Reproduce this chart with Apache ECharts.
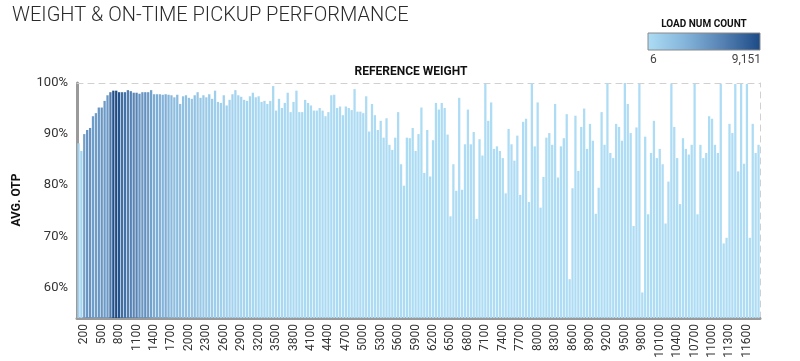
<!DOCTYPE html>
<html>
<head>
<meta charset="utf-8">
<script src="https://cdn.jsdelivr.net/npm/echarts@6/dist/echarts.min.js"></script>
<style>
html,body{margin:0;padding:0;background:#fff;}
#chart{width:800px;height:361px;}
</style>
</head>
<body>
<div id="chart"></div>
<script>
// Reference weight categories (100 .. 11800, step 50)
const weights = [];
for (let w = 100; w <= 11800; w += 50) weights.push(String(w));

// Average on-time pickup (%)
const otp = [
  88.2, 86.7, 90.0, 90.8, 91.2, 93.5, 94.1, 95.2, 95.2, 96.5,
  97.6, 98.2, 98.5, 98.5, 98.2, 98.2, 98.2, 98.6, 98.4, 98.1,
  98.1, 97.9, 98.2, 98.2, 98.2, 98.6, 97.8, 97.8, 97.8, 97.7,
  97.8, 97.7, 97.6, 97.2, 97.7, 95.9, 97.4, 97.6, 97.1, 96.9,
  97.6, 98.2, 97.1, 97.6, 97.2, 97.8,
  96.9, 98.5, 96.3, 96.1, 97.6, 95.6, 96.7, 97.8, 98.6, 97.6,
  97.3, 96.7, 96.5, 97.4, 98.1, 97.2, 97.4, 96.3, 96.5, 95.9,
  96.5, 99.4, 94.6, 96.9, 95.1, 96.1, 98.1, 94.3, 96.3, 98.5,
  94.3, 94.3, 96.7, 96.1, 95.6, 94.6, 94.6, 95.1, 94.6, 93.5,
  94.3, 97.6, 97.7, 95.1, 95.4, 93.7, 95.4, 95.1, 94.7,
  98.8, 94.4, 94.4, 94.1, 97.4, 90.5, 95.9, 93.7, 90.8, 92.6,
  89.3, 93.1, 87.9, 86.9, 89.3, 94.3, 84.1, 79.9, 89.3, 89.2,
  91.2, 86.7, 90.0, 95.2, 82.4, 90.8, 81.7, 88.8, 96.1, 94.8,
  96.1, 95.1, 89.9, 73.9, 84.1, 78.9, 97.1, 79.1, 88.0, 94.8,
  88.0, 90.4, 73.4, 89.0, 85.8, 99.8, 92.6,
  96.2, 87.1, 87.6, 86.7, 85.3, 78.4, 91.0, 88.0, 84.8, 89.7,
  78.1, 92.4, 93.0, 76.7, 100, 87.6, 96.2, 75.6, 81.6, 89.3,
  90.2, 87.9, 95.9, 81.5, 87.6, 89.2, 93.9, 61.6, 79.4, 93.6,
  82.8, 91.4, 95.0, 87.1, 92.0, 88.7, 74.4, 79.5, 94.3, 87.9,
  100, 86.3, 85.3, 92.0, 91.4, 88.7, 100, 95.9,
  90.2, 72.0, 91.3, 99.8, 59.0, 89.5, 74.3, 86.3, 92.6, 85.3,
  87.1, 84.1, 72.5, 80.7, 99.8, 91.4, 85.3, 76.3, 89.2, 87.1,
  86.0, 87.9, 99.8, 74.3, 87.9, 85.3, 86.3, 93.5, 93.0, 87.9,
  86.3, 99.8, 68.6, 69.7, 92.0, 90.2, 99.8, 82.7, 99.8, 84.2,
  99.8, 69.7, 92.0, 86.3, 87.9
];

// Load count per weight bucket (drives the colour)
const loadCount = [
  900, 600, 4300, 5000, 5000, 4400, 4400, 4900, 4900, 4600,
  4700, 6500, 8800, 9151, 8700, 7200, 7000, 6300, 6100, 5900,
  6000, 5000, 4800, 5200, 4600, 4200, 3600, 3500, 3300, 3100,
  3400, 2900, 2700, 2400, 2500, 2200, 2100, 2000, 1900, 1800,
  2000, 1600, 1500, 1400, 1300, 1400, 1200, 1100, 1000, 950,
  900, 850, 800, 750, 700, 650, 600, 560, 520, 480,
  450, 420, 400, 380, 360, 340, 330, 310, 300, 290,
  280, 270, 260, 250, 240, 230, 220, 210, 200, 195,
  190, 185, 180, 170, 165, 160, 155, 150, 145, 140,
  135, 130, 125, 120, 115, 110, 105, 100, 98, 95,
  92, 90, 88, 85, 82, 80, 78, 75, 72, 70,
  68, 66, 64, 62, 60, 58, 56, 55, 54, 52,
  50, 48, 47, 46, 45, 44, 42, 41, 40, 39,
  38, 37, 36, 35, 34, 33, 32, 31, 30, 30,
  29, 28, 28, 27, 26, 26, 25, 24, 24, 23,
  22, 22, 21, 21, 20, 20, 19, 19, 18, 18,
  17, 17, 16, 16, 16, 15, 15, 15, 14, 14,
  14, 13, 13, 13, 12, 12, 12, 12, 11, 11,
  11, 11, 10, 10, 10, 10, 10, 9, 9, 9,
  9, 9, 9, 8, 8, 8, 8, 8, 8, 8,
  8, 7, 7, 7, 7, 7, 7, 7, 7, 7,
  7, 7, 6, 6, 6, 6, 6, 6, 6, 6,
  6, 6, 6, 6, 6, 6, 6, 6, 6, 6,
  6, 6, 6, 6, 6
];

const yTicks = [60, 70, 80, 90, 100];
const countMin = 6, countMax = 9151;
const rampColors = ['#addcf4', '#84b4da', '#5581b3', '#1c4a86'];

const chart = echarts.init(document.getElementById('chart'));
const source = weights.map((w, i) => [w, otp[i], loadCount[i]]);
const FONT = 'Roboto';

chart.setOption({
  animation: false,
  backgroundColor: '#fff',
  textStyle: { fontFamily: FONT },
  title: [
    { text: 'WEIGHT & ON-TIME PICKUP PERFORMANCE', left: 7, top: 1,
      textStyle: { fontFamily: FONT, fontSize: 20, fontWeight: 300, color: '#2a2a2a' } },
    { text: 'REFERENCE WEIGHT', left: 406, top: 61, textAlign: 'center',
      textStyle: { fontFamily: FONT, fontSize: 12, fontWeight: 'bold', color: '#111' } }
  ],
  grid: { left: 77, right: 40, top: 83, bottom: 43, containLabel: false },
  dataset: { source: source },
  visualMap: {
    show: false, type: 'continuous', dimension: 2,
    min: countMin, max: countMax, seriesIndex: 0,
    inRange: { color: rampColors }
  },
  xAxis: [{
    type: 'category',
    data: weights,
    axisLine: { show: true, lineStyle: { color: '#9a9a9a', width: 3 } },
    axisTick: { show: false },
    axisLabel: {
      rotate: 90, fontSize: 12, color: '#333', margin: 6,
      interval: (idx, val) => (Number(val) - 200) % 300 === 0
    },
    splitLine: { show: false }
  }, {
    type: 'category', position: 'top', data: weights,
    axisLine: { show: true, lineStyle: { color: '#d0d0d0', width: 1, type: [6, 5] } },
    axisTick: { show: false }, axisLabel: { show: false }
  }],
  yAxis: [{
    type: 'value', min: 54, max: 100,
    axisLine: { show: true, lineStyle: { color: '#9a9a9a', width: 3 } },
    axisTick: { show: false },
    axisLabel: { customValues: yTicks, formatter: v => v + '%', fontSize: 13, color: '#333', margin: 9 },
    splitLine: { show: false }
  }, {
    type: 'value', min: 54, max: 100, position: 'right',
    axisLine: { show: true, lineStyle: { color: '#d0d0d0', width: 1, type: [6, 5] } },
    axisTick: { show: false }, axisLabel: { show: false }, splitLine: { show: false }
  }],
  series: [{
    type: 'bar',
    encode: { x: 0, y: 1 },
    barCategoryGap: '22%',
    itemStyle: { borderWidth: 0 }
  }],
  graphic: [
    { type: 'text', x: 17, y: 200, rotation: Math.PI / 2,
      style: { text: 'AVG. OTP', fontFamily: FONT, fontSize: 12, fontWeight: 'bold', fill: '#111', align: 'center', verticalAlign: 'middle' } },
    { type: 'text', x: 704, y: 24,
      style: { text: 'LOAD NUM COUNT', fontFamily: FONT, fontSize: 10, fontWeight: 'bold', fill: '#111', align: 'center', verticalAlign: 'middle' } },
    { type: 'rect', shape: { x: 648, y: 33, width: 112, height: 17 },
      style: { stroke: '#8a8a8a', lineWidth: 1,
        fill: new echarts.graphic.LinearGradient(0, 0, 1, 0, rampColors.map((c, i) => ({ offset: i / (rampColors.length - 1), color: c }))) } },
    { type: 'text', x: 650, y: 60,
      style: { text: String(countMin), fontFamily: FONT, fontSize: 12, fill: '#444', align: 'left', verticalAlign: 'middle' } },
    { type: 'text', x: 761, y: 60,
      style: { text: countMax.toLocaleString('en-US'), fontFamily: FONT, fontSize: 12, fill: '#444', align: 'right', verticalAlign: 'middle' } }
  ]
});
</script>
</body>
</html>
